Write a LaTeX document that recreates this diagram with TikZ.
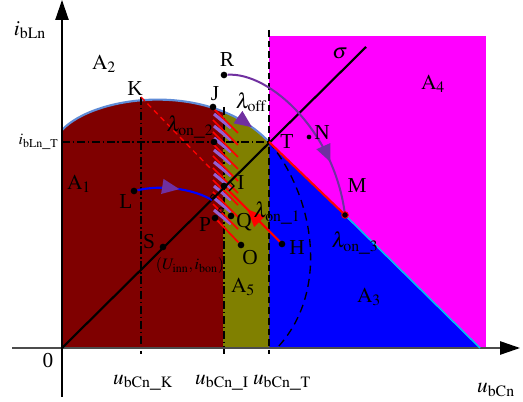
\documentclass[tikz,border=0pt]{standalone}
\usepackage{mathptmx}
\usepackage{fontspec}
\setmainfont{Liberation Serif}
\usetikzlibrary{arrows.meta,decorations.markings,calc}

\definecolor{maroonA}{RGB}{127,0,0}
\definecolor{oliveA}{RGB}{128,128,0}
\definecolor{magA}{RGB}{255,0,255}
\definecolor{blueA}{RGB}{0,0,255}
\definecolor{purpA}{RGB}{112,48,160}
\definecolor{lavA}{RGB}{150,95,210}
\definecolor{arcA}{RGB}{95,140,215}
\definecolor{cyanA}{RGB}{0,190,240}

\tikzset{
  dot/.style={circle,fill=black,inner sep=0pt,minimum size=5pt},
  ring/.style={circle,draw=black,line width=0.6pt,inner sep=0pt,minimum size=3.5pt},
  lbl/.style={font=\fontsize{16}{18}\selectfont,inner sep=1pt},
  small/.style={font=\fontsize{12}{14}\selectfont,inner sep=1pt},
  dashdot/.style={line width=1pt,dash pattern=on 6pt off 2pt on 1.2pt off 2pt},
  bigtip/.style={postaction={decorate},decoration={markings,
      mark=at position #1 with {\arrow[purpA]{Triangle[length=13pt,width=11pt]}}}},
  redtip/.style={postaction={decorate},decoration={markings,
      mark=at position #1 with {\arrow[red]{Triangle[length=13pt,width=11pt]}}}}
}

\begin{document}
\begin{tikzpicture}[x=0.75pt,y=0.75pt]
\useasboundingbox (0,0) rectangle (523,402);
% points
\coordinate (org) at (62,54);
\coordinate (K) at (141,305);
\coordinate (T) at (269,260);
\coordinate (M) at (345,187);
\coordinate (H) at (282,158);
\coordinate (I) at (224,216);
\coordinate (endA3) at (480,54);
\coordinate (sigEnd) at (366,355);
\coordinate (kEnd) at (212,232);
% regions
\fill[magA] (269,54) rectangle (486,366);
\fill[blueA] (T) -- (endA3) -- (269,54) -- cycle;
\fill[maroonA] (org) -- (62,272) .. controls (95,307) and (210,322) .. (T) -- (269,54) -- cycle;
\begin{scope}
  \clip (223,40) rectangle (269,402);
  \fill[oliveA] (org) -- (62,272) .. controls (95,307) and (210,322) .. (T) -- (269,54) -- cycle;
\end{scope}
\draw[arcA,line width=1.6pt,bigtip=0.9] (62,272) .. controls (95,307) and (210,322) .. (T);
% guide lines
\draw[dashdot] (62,260) -- (T);
\draw[dashdot] (K) -- (141,48);
\draw[dashdot] (224,295) -- (224,48);
\draw[line width=1pt,dash pattern=on 5pt off 3pt] (269,372) -- (269,48);
\draw[line width=1pt,dash pattern=on 6pt off 4pt] (T) .. controls (315,205) and (330,110) .. (277,54);
\draw[red,line width=1pt,dash pattern=on 4pt off 3pt] (K) -- (kEnd);
% hatching
\foreach \k in {0,...,8}
  \draw[lavA,line width=2.4pt] (214,288-12*\k) -- ++(17,-14);
\foreach \k in {0,...,8}
  \draw[red,line width=1.3pt] (213,294-12*\k) -- ++(25,-25);
% axes
\draw[gray!60!black,line width=1.2pt,-{Triangle[length=15pt,width=10pt,color=black]}] (12,54) -- (520,54);
\draw[line width=1pt,-{Triangle[length=15pt,width=10pt]}] (62,5) -- (62,402);
% trajectories
\draw[line width=1.6pt] (org) -- (sigEnd);
\node[dot] (S) at (163,155) {};
\node[dot] (Opt) at (241,157) {};
\draw[red,line width=1.3pt] (213,186) -- (Opt);
\draw[red,line width=1.6pt] (T) -- (M);
\draw[cyanA,line width=1.2pt] (M) -- (endA3);
\draw[red,line width=1.6pt,redtip=0.6] (H) -- (I);
\draw[line width=0.8pt] ($(I)+(5,5)$) -- ($(I)+(10,0)$) -- ($(I)+(5,-5)$);
\node[dot] (L) at (134,211) {};
\coordinate (lEnd) at (212,202);
\draw[blueA,line width=1.6pt,bigtip=0.55] (L) .. controls (165,218) and (195,212) .. (lEnd);
\node[dot] (R) at (224,327) {};
\draw[purpA,line width=1.5pt,bigtip=0.72] (R) .. controls (270,330) and (335,270) .. (M);
% marked points
\node[dot] (J) at (213,295) {};
\node[dot] (iT) at (214,260) {};
\node[ring] (c1) at (213,205) {};
\node[ring] (c2) at (221,192) {};
\node[dot] (Ipt) at (I) {};
\node[dot] (Q) at (231,186) {};
\node[dot] (P) at (215,184) {};
\node[dot] (Hpt) at (H) {};
\node[circle,fill=black,inner sep=0pt,minimum size=3.5pt] (N) at (309,265) {};
\node[circle,fill=black,draw=red,line width=0.6pt,inner sep=0pt,minimum size=5pt] (Mpt) at (M) {};
% labels
\node[lbl] (lK) at (135,313) {K};
\node[lbl] (lJ) at (215,308) {J};
\node[lbl] (lR) at (227,342) {R};
\node[lbl] (lT) at (287,260) {T};
\node[lbl] (lN) at (322,269) {N};
\node[lbl] (lM) at (357,216) {M};
\node[lbl] (lH) at (297,154) {H};
\node[lbl] (lI) at (241,219) {I};
\node[lbl] (lQ) at (244,180) {Q};
\node[lbl] (lP) at (205,177) {P};
\node[lbl] (lO) at (250,144) {O};
\node[lbl] (lS) at (149,160) {S};
\node[lbl] (lL) at (126,200) {L};
\node[small] (lUi) at (190,136) {$(U_{\mathrm{inn}},i_{\mathrm{bon}})$};
\node[lbl] (lsig) at (340,349) {$\sigma$};
\node[lbl] (lA1) at (79,218) {$\mathrm{A}_1$};
\node[lbl] (lA2) at (104,338) {$\mathrm{A}_2$};
\node[lbl] (lA3) at (369,105) {$\mathrm{A}_3$};
\node[lbl] (lA4) at (433,318) {$\mathrm{A}_4$};
\node[lbl] (lA5) at (243,115) {$\mathrm{A}_5$};
\node[lbl] (loff) at (251,300) {$\lambda_{\mathrm{off}}$};
\node[lbl] (lon2) at (190,275) {$\lambda_{\mathrm{on\_2}}$};
\node[lbl] (lon1) at (277,189) {$\lambda_{\mathrm{on\_1}}$};
\node[lbl] (lon3) at (355,159) {$\lambda_{\mathrm{on\_3}}$};
\node[lbl] (lzero) at (48,41) {0};
\node[lbl] (liy) at (30,372) {$i_{\mathrm{bLn}}$};
\node[small,anchor=east] (liT) at (60,260) {$i_{\mathrm{bLn\_T}}$};
\node[lbl] (luK) at (143,19) {$u_{\mathrm{bCn\_K}}$};
\node[lbl] (luI) at (222,19) {$u_{\mathrm{bCn\_I}}$};
\node[lbl] (luT) at (282,19) {$u_{\mathrm{bCn\_T}}$};
\node[lbl] (lu) at (496,12) {$u_{\mathrm{bCn}}$};
\end{tikzpicture}
\end{document}
